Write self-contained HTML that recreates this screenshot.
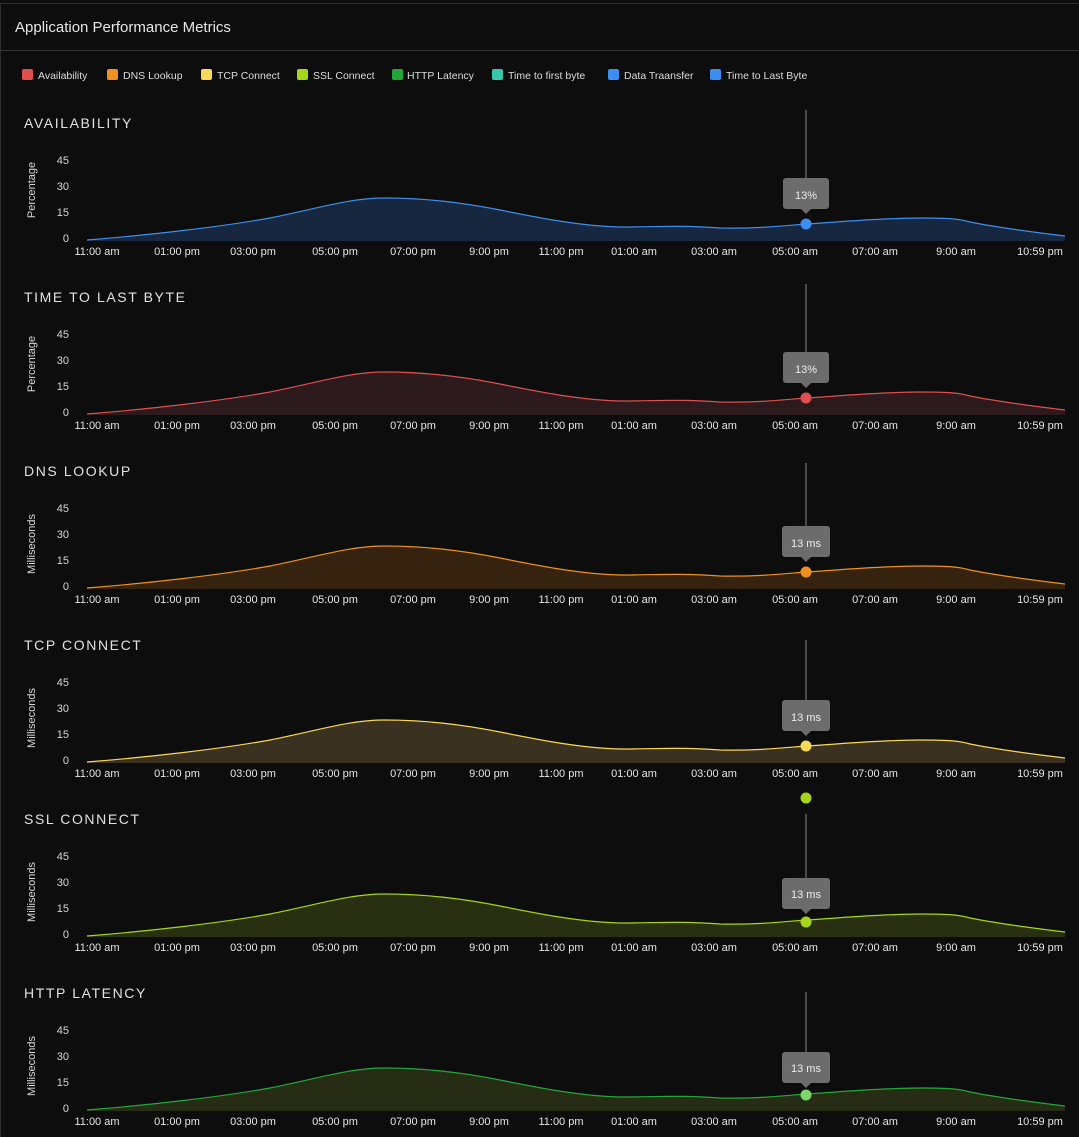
<!DOCTYPE html>
<html><head><meta charset="utf-8"><style>
html,body{margin:0;padding:0;background:#0d0d0d;width:1079px;height:1137px;overflow:hidden}
svg{display:block;font-family:"Liberation Sans",sans-serif}
.t{fill:#e6e6e6;font-size:11px}
.y{fill:#d8d8d8;font-size:11px;text-anchor:end}
.h{fill:#e2e2e2;font-size:14px;letter-spacing:1.6px}
.lg{fill:#dcdcdc;font-size:10.5px}
.tt{fill:#ececec;font-size:11px;text-anchor:middle}
</style></head><body>
<svg width="1079" height="1137" viewBox="0 0 1079 1137">
<defs>
<path id="a" d="M87,240 C150,235 220,227 270,218 C320,208 350,198 385,198 C420,198 460,202 500,210 C540,218 580,226 620,227 C650,227 680,225 720,228 C760,229 790,225 806,224 C840,222 880,218 920,218 C950,218 960,219 970,222 C1000,228 1040,233 1065,236 L1065,241 L87,241 Z"/>
<path id="l" d="M87,240 C150,235 220,227 270,218 C320,208 350,198 385,198 C420,198 460,202 500,210 C540,218 580,226 620,227 C650,227 680,225 720,228 C760,229 790,225 806,224 C840,222 880,218 920,218 C950,218 960,219 970,222 C1000,228 1040,233 1065,236" fill="none" stroke-width="1.2"/>
<g id="ticks">
<text class="t" x="97" y="255" text-anchor="middle">11:00 am</text>
<text class="t" x="177" y="255" text-anchor="middle">01:00 pm</text>
<text class="t" x="253" y="255" text-anchor="middle">03:00 pm</text>
<text class="t" x="335" y="255" text-anchor="middle">05:00 pm</text>
<text class="t" x="413" y="255" text-anchor="middle">07:00 pm</text>
<text class="t" x="489" y="255" text-anchor="middle">9:00 pm</text>
<text class="t" x="561" y="255" text-anchor="middle">11:00 pm</text>
<text class="t" x="634" y="255" text-anchor="middle">01:00 am</text>
<text class="t" x="714" y="255" text-anchor="middle">03:00 am</text>
<text class="t" x="795" y="255" text-anchor="middle">05:00 am</text>
<text class="t" x="875" y="255" text-anchor="middle">07:00 am</text>
<text class="t" x="956" y="255" text-anchor="middle">9:00 am</text>
<text class="t" x="1040" y="255" text-anchor="middle">10:59 pm</text>
</g>
<g id="yax">
<text class="y" x="69" y="164">45</text>
<text class="y" x="69" y="190">30</text>
<text class="y" x="69" y="216">15</text>
<text class="y" x="69" y="242">0</text>
</g>
</defs>
<rect x="0" y="0" width="1079" height="1137" fill="#0d0d0d"/>
<rect x="0.5" y="3.5" width="1090" height="1140" fill="none" stroke="#2e2e2e"/>
<line x1="0" y1="50.5" x2="1079" y2="50.5" stroke="#333"/>
<text x="15" y="32" fill="#e6e6e6" font-size="15">Application Performance Metrics</text>
<!-- legend -->
<rect x="22" y="69" width="11" height="11" rx="2" fill="#e04f4f"/><text class="lg" x="38" y="79">Availability</text>
<rect x="107" y="69" width="11" height="11" rx="2" fill="#f0901e"/><text class="lg" x="123" y="79">DNS Lookup</text>
<rect x="201" y="69" width="11" height="11" rx="2" fill="#fad85a"/><text class="lg" x="217" y="79">TCP Connect</text>
<rect x="297" y="69" width="11" height="11" rx="2" fill="#a6d61a"/><text class="lg" x="313" y="79">SSL Connect</text>
<rect x="392" y="69" width="11" height="11" rx="2" fill="#22a83a"/><text class="lg" x="407" y="79">HTTP Latency</text>
<rect x="492" y="69" width="11" height="11" rx="2" fill="#38c6a8"/><text class="lg" x="508" y="79">Time to first byte</text>
<rect x="608" y="69" width="11" height="11" rx="2" fill="#3d8ef0"/><text class="lg" x="624" y="79">Data Traansfer</text>
<rect x="710" y="69" width="11" height="11" rx="2" fill="#3d8ef0"/><text class="lg" x="726" y="79">Time to Last Byte</text>

<!-- chart 1 -->
<g>
<text class="h" x="24" y="128">AVAILABILITY</text>
<use href="#yax"/><text class="y" transform="translate(35,190) rotate(-90)" text-anchor="middle" style="text-anchor:middle">Percentage</text>
<use href="#a" fill="#182740"/><use href="#l" stroke="#3d8ef0"/>
<use href="#ticks"/>
<line x1="806" y1="110" x2="806" y2="178" stroke="#888"/>
<rect x="783" y="178" width="46" height="31" rx="3" fill="#6c6c6c"/><path d="M801,209 L806,214 L811,209Z" fill="#6c6c6c"/>
<text class="tt" x="806" y="199">13%</text>
<circle cx="806" cy="224" r="5.5" fill="#3d8ef0"/>
</g>
<!-- chart 2 -->
<g transform="translate(0,174)">
<text class="h" x="24" y="128">TIME TO LAST BYTE</text>
<use href="#yax"/><text class="y" transform="translate(35,190) rotate(-90)" style="text-anchor:middle">Percentage</text>
<use href="#a" fill="#2d1a1c"/><use href="#l" stroke="#e04f4f"/>
<use href="#ticks"/>
<line x1="806" y1="110" x2="806" y2="178" stroke="#888"/>
<rect x="783" y="178" width="46" height="31" rx="3" fill="#6c6c6c"/><path d="M801,209 L806,214 L811,209Z" fill="#6c6c6c"/>
<text class="tt" x="806" y="199">13%</text>
<circle cx="806" cy="224" r="5.5" fill="#e04f4f"/>
</g>
<!-- chart 3 -->
<g transform="translate(0,348)">
<text class="h" x="24" y="128">DNS LOOKUP</text>
<use href="#yax"/><text class="y" transform="translate(35,196) rotate(-90)" style="text-anchor:middle">Milliseconds</text>
<use href="#a" fill="#352310"/><use href="#l" stroke="#f0901e"/>
<use href="#ticks"/>
<line x1="806" y1="115" x2="806" y2="178" stroke="#888"/>
<rect x="782" y="178" width="48" height="31" rx="3" fill="#6c6c6c"/><path d="M801,209 L806,214 L811,209Z" fill="#6c6c6c"/>
<text class="tt" x="806" y="199">13 ms</text>
<circle cx="806" cy="224" r="5.5" fill="#f0901e"/>
</g>
<!-- chart 4 -->
<g transform="translate(0,522)">
<text class="h" x="24" y="128">TCP CONNECT</text>
<use href="#yax"/><text class="y" transform="translate(35,196) rotate(-90)" style="text-anchor:middle">Milliseconds</text>
<use href="#a" fill="#3a3120"/><use href="#l" stroke="#fad85a"/>
<use href="#ticks"/>
<line x1="806" y1="118" x2="806" y2="178" stroke="#888"/>
<rect x="782" y="178" width="48" height="31" rx="3" fill="#6c6c6c"/><path d="M801,209 L806,214 L811,209Z" fill="#6c6c6c"/>
<text class="tt" x="806" y="199">13 ms</text>
<circle cx="806" cy="224" r="5.5" fill="#fad85a"/>
</g>
<!-- chart 5 -->
<g transform="translate(0,696)">
<text class="h" x="24" y="128">SSL CONNECT</text>
<use href="#yax"/><text class="y" transform="translate(35,196) rotate(-90)" style="text-anchor:middle">Milliseconds</text>
<use href="#a" fill="#283011"/><use href="#l" stroke="#a6d61a"/>
<use href="#ticks"/>
<circle cx="806" cy="102" r="5.5" fill="#a6d61a"/>
<line x1="806" y1="118" x2="806" y2="182" stroke="#888"/>
<rect x="782" y="182" width="48" height="31" rx="3" fill="#6c6c6c"/><path d="M801,213 L806,218 L811,213Z" fill="#6c6c6c"/>
<text class="tt" x="806" y="202">13 ms</text>
<circle cx="806" cy="226" r="5.5" fill="#a6d61a"/>
</g>
<!-- chart 6 -->
<g transform="translate(0,870)">
<text class="h" x="24" y="128">HTTP LATENCY</text>
<use href="#yax"/><text class="y" transform="translate(35,196) rotate(-90)" style="text-anchor:middle">Milliseconds</text>
<use href="#a" fill="#272d15"/><use href="#l" stroke="#22a83a"/>
<use href="#ticks"/>
<line x1="806" y1="122" x2="806" y2="182" stroke="#888"/>
<rect x="782" y="182" width="48" height="31" rx="3" fill="#6c6c6c"/><path d="M801,213 L806,218 L811,213Z" fill="#6c6c6c"/>
<text class="tt" x="806" y="202">13 ms</text>
<circle cx="806" cy="225" r="5.5" fill="#7ed56a"/>
</g>
</svg>
</body></html>
